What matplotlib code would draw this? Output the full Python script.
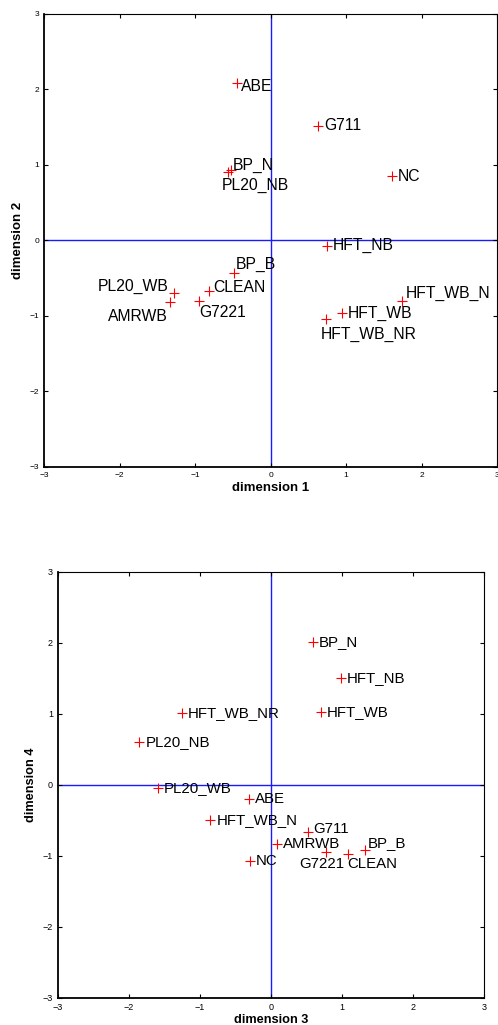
import matplotlib
matplotlib.use('Agg')
import matplotlib.pyplot as plt

plt.rcParams['font.family'] = ['Liberation Sans', 'DejaVu Sans']

# MDS coordinates per condition
names = ['ABE', 'G711', 'BP_N', 'PL20_NB', 'NC', 'HFT_NB', 'BP_B', 'PL20_WB',
         'CLEAN', 'AMRWB', 'G7221', 'HFT_WB_N', 'HFT_WB', 'HFT_WB_NR']
dim1 = [-0.45, 0.63, -0.53, -0.56, 1.61, 0.75, -0.48, -1.28,
        -0.82, -1.33, -0.95, 1.74, 0.95, 0.73]
dim2 = [2.08, 1.52, 0.93, 0.91, 0.85, -0.07, -0.43, -0.69,
        -0.67, -0.82, -0.80, -0.80, -0.96, -1.04]
dim3 = [-0.31, 0.52, 0.59, -1.85, -0.30, 0.99, 1.32, -1.59,
        1.09, 0.09, 0.78, -0.85, 0.70, -1.25]
dim4 = [-0.20, -0.66, 2.01, 0.60, -1.07, 1.51, -0.92, -0.05,
        -0.97, -0.84, -0.95, -0.49, 1.03, 1.01]
ticks = [-3, -2, -1, 0, 1, 2, 3]

# label offsets in pixels (dx, dy, ha), default is right of the marker
off_top = {'ABE': (4, -3, 'left'), 'BP_N': (2, 5, 'left'),
           'PL20_NB': (-6.5, -13.5, 'left'), 'HFT_WB_NR': (-4.5, -15, 'left'),
           'G7221': (0, -11.6, 'left'), 'PL20_WB': (-5.7, 6, 'right'),
           'AMRWB': (-2, -14, 'right'), 'HFT_WB_N': (4.3, 7.4, 'left'),
           'BP_B': (1.4, 8.4, 'left'), 'CLEAN': (5, 3.3, 'left')}
off_bot = {'G711': (5.7, 2.7, 'left'), 'BP_B': (3.3, 7, 'left'),
           'G7221': (-27.3, -12, 'left'), 'CLEAN': (-0.7, -10.7, 'left')}


def draw(ax, xs, ys, offs, xlabel, ylabel, tick_fs, lab_fs, txt_fs):
    ax.axhline(0, color='#1a1aff', lw=1.0, zorder=1)
    ax.axvline(0, color='#1a1aff', lw=1.0, zorder=1)
    ax.plot(xs, ys, '+', color='red', ms=7.5, mew=0.8, zorder=3)
    for n, x, y in zip(names, xs, ys):
        dx, dy, ha = offs.get(n, (6, 0, 'left'))
        ax.annotate(n, (x, y), xytext=(dx, dy), textcoords='offset pixels',
                    ha=ha, va='center', fontsize=txt_fs)
    ax.set_xlim(-3, 3)
    ax.set_ylim(-3, 3)
    ax.set_xticks(ticks)
    ax.set_yticks(ticks)
    ax.tick_params(direction='in', top=True, right=True, length=3,
                   width=0.8, labelsize=tick_fs, pad=3.5)
    for s in ['left', 'bottom']:
        ax.spines[s].set_linewidth(1.3)
    for s in ['top', 'right']:
        ax.spines[s].set_linewidth(0.8)
    ax.set_xlabel(xlabel, fontweight='bold', fontsize=lab_fs, labelpad=2)
    ax.set_ylabel(ylabel, fontweight='bold', fontsize=lab_fs, labelpad=4)


fig = plt.figure(figsize=(4.98, 10.25), dpi=100)
ax1 = fig.add_axes([0.0884, 0.5444, 0.9096, 0.4420])
ax2 = fig.add_axes([0.1159, 0.0266, 0.856, 0.4156])

draw(ax1, dim1, dim2, off_top, 'dimension 1', 'dimension 2', 6, 9.5, 11.3)
draw(ax2, dim3, dim4, off_bot, 'dimension 3', 'dimension 4', 6.5, 9.2, 10.8)

fig.savefig('out.png', dpi=100)
